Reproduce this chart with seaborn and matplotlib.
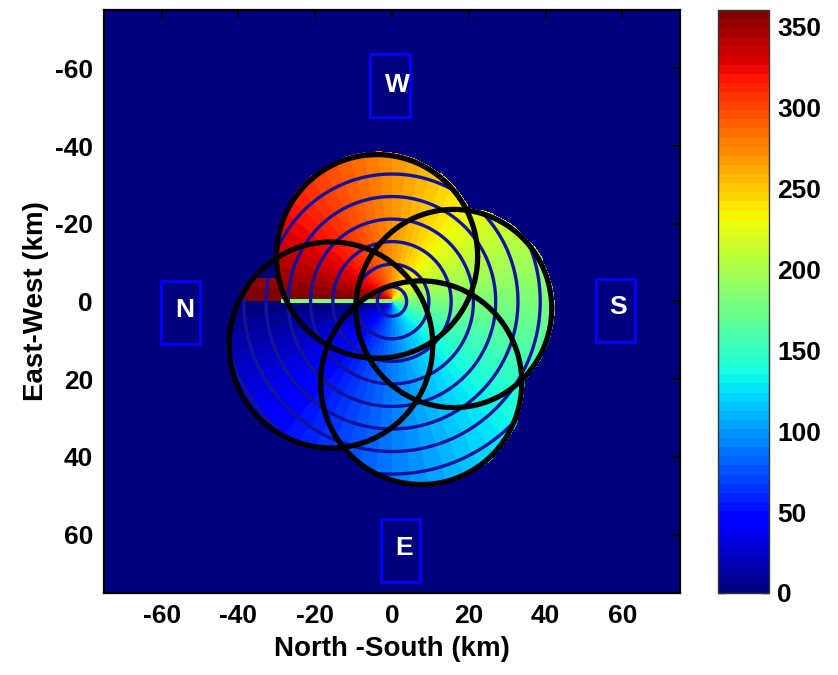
import numpy as np
import pandas as pd
import matplotlib
matplotlib.use("Agg")
import matplotlib.pyplot as plt
from matplotlib.patches import Rectangle
import seaborn as sns

# ---------------- data ----------------
circle_x = [-3.9, 16.1, -15.9, 7.6]      # North-South centre (km)
circle_y = [-11.6, 1.8, 11.2, 20.9]      # East-West centre (km)
circle_r = [26.2, 25.5, 26.5, 26.2]      # radius (km)
circle_ymin = [-90, -90, -6.0, -90]      # lower E-W limit of coloured coverage
range_levels = [3.8, 9.6, 15.4, 21.2, 27.0, 32.8, 38.6, 44.4]
seam_x = [-29.0, 0.0]
seam_value = 180.0
labels = ["W", "S", "N", "E"]
label_x = [1.3, 58.9, -54.1, 3.1]
label_y = [-55.8, 1.5, 2.2, 63.3]
box_cx = [-0.45, 58.2, -55.1, 2.2]
box_cy = [-55.5, 2.2, 2.9, 64.1]
xticks = [-60, -40, -20, 0, 20, 40, 60]
yticks = [-60, -40, -20, 0, 20, 40, 60]
cbar_ticks = [0, 50, 100, 150, 200, 250, 300, 350]

sns.set_style("white")
plt.rcParams['font.family'] = ['Liberation Sans', 'DejaVu Sans']
plt.rcParams['font.weight'] = 'bold'
for k in ['text.color', 'axes.labelcolor', 'xtick.color', 'ytick.color']:
    plt.rcParams[k] = 'black'

# ---------------- field ----------------
step = 0.25
g = np.arange(-75 + step / 2, 75, step)
X, Y = np.meshgrid(g, g)
az = np.mod(np.degrees(np.arctan2(Y, -X)), 360.0)
mask = np.zeros_like(X, dtype=bool)
for cx, cy, r, ymin in zip(circle_x, circle_y, circle_r, circle_ymin):
    mask |= (((X - cx) ** 2 + (Y - cy) ** 2) <= (r + 0.6) ** 2) & (Y > ymin)
field = np.where(mask, az, 0.0)
seam = (np.abs(Y) < 0.45) & (X > seam_x[0]) & (X < seam_x[1]) & mask
field[seam] = seam_value
R = np.hypot(X, Y)
R_masked = np.ma.masked_where(~mask, R)

# ---------------- figure ----------------
W, H = 838, 675
fig = plt.figure(figsize=(W / 100, H / 100), dpi=100)
ax = fig.add_axes([104 / W, (H - 593) / H, 576 / W, 583 / H])
cax = fig.add_axes([718 / W, (H - 593) / H, 51 / W, 583 / H])

cmap = plt.get_cmap('jet', 64)
im = ax.imshow(field, extent=[-75, 75, 75, -75], cmap=cmap, vmin=0, vmax=360,
               interpolation='nearest', aspect='auto')
ax.contour(X, Y, R_masked, levels=range_levels, colors='#12129a', linewidths=2.4)

# coverage circle outlines through seaborn
t = np.linspace(0, 2 * np.pi, 361)
rows = []
for i, (cx, cy, r) in enumerate(zip(circle_x, circle_y, circle_r)):
    rows.append(pd.DataFrame({'x': cx + r * np.cos(t), 'y': cy + r * np.sin(t), 'c': i}))
df = pd.concat(rows, ignore_index=True)
sns.lineplot(data=df, x='x', y='y', units='c', estimator=None, sort=False,
             color='black', linewidth=3.8, ax=ax, legend=False)

# direction labels
bw, bh = 10.3, 16.2
for lab, lx, ly, bx, by in zip(labels, label_x, label_y, box_cx, box_cy):
    ax.add_patch(Rectangle((bx - bw / 2, by - bh / 2), bw, bh, fill=False,
                           edgecolor='#0000ff', linewidth=2.0, zorder=5))
    ax.text(lx, ly, lab, color='white', fontsize=19, fontweight='bold',
            ha='center', va='center', zorder=6)

ax.set_xlim(-75, 75)
ax.set_ylim(75, -75)
ax.set_xticks(xticks)
ax.set_yticks(yticks)
ax.set_xticklabels([str(v) for v in xticks], fontsize=19, fontweight='bold')
ax.set_yticklabels([str(v) for v in yticks], fontsize=19, fontweight='bold')
ax.tick_params(direction='in', length=6, width=1.2, top=True, right=True,
               colors='black', pad=8)
ax.set_xlabel('North -South (km)', fontsize=20, fontweight='bold', labelpad=6)
ax.set_ylabel('East-West (km)', fontsize=20, fontweight='bold', labelpad=4)
for s in ax.spines.values():
    s.set_linewidth(1.6)
    s.set_color('black')

cb = fig.colorbar(im, cax=cax, ticks=cbar_ticks)
cb.outline.set_linewidth(1.0)
cb.outline.set_edgecolor('#333333')
cax.tick_params(direction='in', length=5, width=1.0, left=True, right=True,
                labelsize=19, pad=6, colors='black')
for tl in cax.get_yticklabels():
    tl.set_fontweight('bold')

fig.savefig('out.png', dpi=100)
